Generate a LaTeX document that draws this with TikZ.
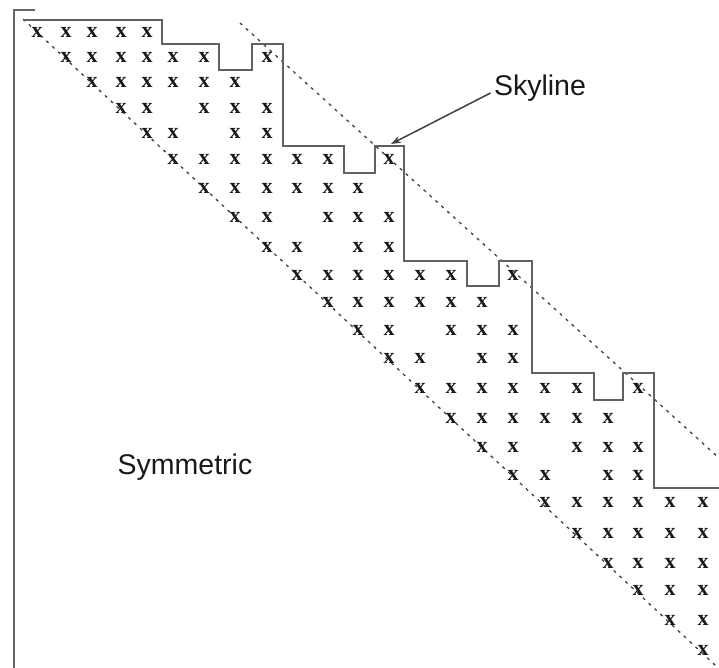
\documentclass[tikz,border=0pt]{standalone}
\usepackage{fontspec}
\setmainfont{Liberation Serif}
\newfontfamily\labelfont{Liberation Sans}
\usetikzlibrary{arrows.meta}
\begin{document}
\begin{tikzpicture}[x=1pt,y=-1pt,
  entry/.style={inner sep=0pt, font=\fontsize{22}{22}\selectfont\bfseries, text=black!90},
  frameline/.style={draw=black!60, line width=2.2pt},
  skyline/.style={draw=black!62, line width=2.6pt, line join=miter},
  diagline/.style={draw=black!75, line width=1.3pt, dash pattern=on 3pt off 5pt},
  caption/.style={font=\labelfont\fontsize{28.5}{28.5}\selectfont, text=black!90},
  pointer/.style={draw=black!75, line width=1.5pt, -{Stealth[length=10pt,width=7pt]}}]
\useasboundingbox (0,0) rectangle (719,668);

% column and row centres of the matrix entries
\def\colpos{{37,66,92,121,147,173,204,235,267,297,328,358,389,420,451,482,513,545,577,608,638,670,703}}
\def\rowpos{{32,57,82,108,133,159,188,217,247,275,302,330,358,388,418,447,475,502,533,563,590,620,650}}

% matrix bracket
\draw[frameline] (35,10) -- (14,10) -- (14,668);

% dashed band limits
\draw[diagline] (23,19) -- (716,666);
\draw[diagline] (240,23) -- (719,458);

% non-zero entries of the upper triangle
\foreach \r/\cols in {
  1/{1,2,3,4,5},
  2/{2,3,4,5,6,7,9},
  3/{3,4,5,6,7,8},
  4/{4,5,7,8,9},
  5/{5,6,8,9},
  6/{6,7,8,9,10,11,13},
  7/{7,8,9,10,11,12},
  8/{8,9,11,12,13},
  9/{9,10,12,13},
  10/{10,11,12,13,14,15,17},
  11/{11,12,13,14,15,16},
  12/{12,13,15,16,17},
  13/{13,14,16,17},
  14/{14,15,16,17,18,19,21},
  15/{15,16,17,18,19,20},
  16/{16,17,19,20,21},
  17/{17,18,20,21},
  18/{18,19,20,21,22,23},
  19/{19,20,21,22,23},
  20/{20,21,22,23},
  21/{21,22,23},
  22/{22,23},
  23/{23}}{
  \foreach \c in \cols {
    \pgfmathsetmacro\xx{\colpos[\c-1]}
    \pgfmathsetmacro\yy{\rowpos[\r-1]}
    \node[entry] (e\r-\c) at (\xx,\yy) {x};
  }
}

% skyline profile
\draw[skyline] (23,20) -- (162,20) -- (162,44) -- (219,44) -- (219,70)
  -- (252,70) -- (252,44) -- (283,44) -- (283,146) -- (344,146) -- (344,173)
  -- (375,173) -- (375,146) -- (404,146) -- (404,261) -- (467,261) -- (467,286)
  -- (499,286) -- (499,261) -- (532,261) -- (532,373) -- (594,373) -- (594,400)
  -- (623,400) -- (623,373) -- (654,373) -- (654,488) -- (719,488);

% labels
\node[caption] (sky) at (540,88) {Skyline};
\node[caption] (sym) at (185,467) {Symmetric};
\coordinate (skytip) at (391,144);
\draw[pointer] ([shift={(0,5)}]sky.west) -- (skytip);
\end{tikzpicture}
\end{document}
